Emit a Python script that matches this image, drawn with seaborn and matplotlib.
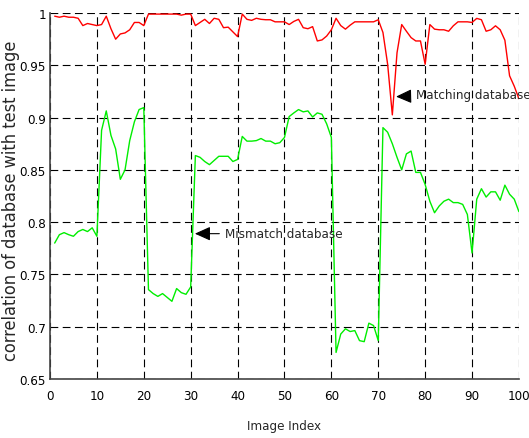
import numpy as np
import pandas as pd
import matplotlib
matplotlib.use("Agg")
import matplotlib.pyplot as plt
import seaborn as sns

image_index = list(range(1, 101))

matching = [
    0.997, 0.996, 0.997, 0.996, 0.996, 0.995, 0.988, 0.990, 0.989, 0.988,
    0.989, 0.997, 0.985, 0.975, 0.980, 0.981, 0.984, 0.991, 0.991, 0.988,
    0.999, 0.999, 0.999, 0.999, 0.999, 0.999, 0.999, 0.998, 0.999, 0.999,
    0.988, 0.991, 0.994, 0.990, 0.995, 0.994, 0.986, 0.9865, 0.982, 0.9775,
    0.999, 0.994, 0.993, 0.995, 0.994, 0.9936, 0.9936, 0.9916, 0.9916, 0.9916,
    0.989, 0.992, 0.994, 0.986, 0.985, 0.987, 0.9733, 0.9743, 0.978, 0.984,
    0.995, 0.988, 0.9846, 0.9884, 0.9916, 0.9916, 0.9916, 0.9916, 0.9916, 0.9936,
    0.9814, 0.951, 0.9026, 0.962, 0.989, 0.9826, 0.9765, 0.9733, 0.9733, 0.951,
    0.989, 0.9846, 0.984, 0.984, 0.9826, 0.9878, 0.9916, 0.9916, 0.9916, 0.991,
    0.9949, 0.9936, 0.9826, 0.984, 0.9878, 0.984, 0.974, 0.940, 0.930, 0.918,
]

mismatch = [
    0.780, 0.788, 0.790, 0.788, 0.7865, 0.791, 0.793, 0.791, 0.7946, 0.7865,
    0.8878, 0.9064, 0.883, 0.870, 0.841, 0.850, 0.878, 0.896, 0.9077, 0.9096,
    0.7355, 0.7317, 0.729, 0.7317, 0.728, 0.7243, 0.7365, 0.7326, 0.731, 0.738,
    0.8637, 0.862, 0.858, 0.855, 0.859, 0.863, 0.863, 0.863, 0.858, 0.860,
    0.882, 0.8775, 0.8775, 0.878, 0.880, 0.8775, 0.8775, 0.875, 0.876, 0.881,
    0.901, 0.9045, 0.9077, 0.9055, 0.9064, 0.9006, 0.9045, 0.9032, 0.894, 0.881,
    0.6754, 0.693, 0.698, 0.6954, 0.6963, 0.6867, 0.6857, 0.7034, 0.7011, 0.6867,
    0.8904, 0.886, 0.875, 0.862, 0.850, 0.8653, 0.868, 0.8476, 0.8476, 0.836,
    0.820, 0.809, 0.8155, 0.820, 0.822, 0.8187, 0.8187, 0.817, 0.8074, 0.7705,
    0.822, 0.832, 0.824, 0.829, 0.829, 0.821, 0.8354, 0.8267, 0.822, 0.810,
]

x_ticks = list(range(0, 101, 10))
y_ticks = [0.65, 0.7, 0.75, 0.8, 0.85, 0.9, 0.95, 1.0]
y_tick_labels = ["0.65", "0.7", "0.75", "0.8", "0.85", "0.9", "0.95", "1"]

df = pd.DataFrame({"Image Index": image_index,
                   "Matching": matching,
                   "Mismatch": mismatch})

sns.set_style("white")
plt.rcParams['font.family'] = ['DejaVu Sans']
plt.rcParams['font.stretch'] = 'condensed'

fig = plt.figure(figsize=(5.29, 4.39), dpi=100)
ax = fig.add_axes([0.0945, 0.1344, 0.8865, 0.8336])

sns.lineplot(data=df, x="Image Index", y="Matching", color="#ff0000", lw=1.0, ax=ax)
sns.lineplot(data=df, x="Image Index", y="Mismatch", color="#00ee00", lw=1.0, ax=ax)

ax.set_xlim(0, 100)
ax.set_ylim(0.65, 1.0)
ax.set_xticks(x_ticks)
ax.set_xticklabels([str(t) for t in x_ticks], fontsize=9.5, stretch='condensed')
ax.set_yticks(y_ticks)
ax.set_yticklabels(y_tick_labels, fontsize=9.5, stretch='condensed')
ax.tick_params(direction="in", length=4, width=0.8, colors="#333333")
ax.tick_params(axis="x", pad=7)
ax.tick_params(axis="y", pad=3)
for lbl in ax.get_xticklabels() + ax.get_yticklabels():
    lbl.set_color("black")

ax.grid(True, color="black", linestyle=(0, (7, 4)), linewidth=0.8)
ax.set_axisbelow(True)
for s in ["top", "right"]:
    ax.spines[s].set_visible(False)
for s in ["left", "bottom"]:
    ax.spines[s].set_color("#444444")
    ax.spines[s].set_linewidth(1.2)

ax.set_xlabel("Image Index", fontsize=9.5, stretch='condensed')
ax.xaxis.set_label_coords(0.5, -0.108)
ax.set_ylabel("correlation of database with test image", fontsize=13,
              stretch='condensed')
ax.yaxis.set_label_coords(-0.064, 0.49)

arrow = dict(arrowstyle="-|>,head_length=1.0,head_width=0.45", color="black", lw=0.8)
ax.annotate("Matching database", xy=(73.2, 0.920), xytext=(78.0, 0.922),
            fontsize=9.5, va="center", ha="left", arrowprops=arrow, stretch='condensed')
ax.annotate("Mismatch database", xy=(30.3, 0.789), xytext=(37.4, 0.789),
            fontsize=9.5, va="center", ha="left", arrowprops=arrow, stretch='condensed')

fig.savefig("out.png", dpi=100)
